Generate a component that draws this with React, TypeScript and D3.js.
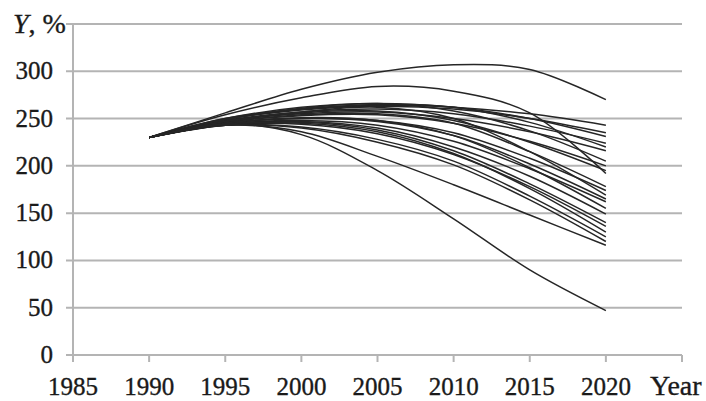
import React from "react";
import * as d3 from "d3";

// Years at which each scenario is sampled
const years = [1990, 1995, 2000, 2005, 2010, 2015, 2020];

// Y, % for each scenario, sampled at `years`
const scenarios: number[][] = [
  [230, 256, 281, 299, 307, 302, 270],
  [230, 254, 272, 284, 279, 256, 192],
  [230, 250, 260, 264, 262, 255, 243],
  [230, 249, 259, 263, 260, 250, 235],
  [230, 250, 262, 266, 262, 250, 231],
  [230, 248, 257, 260, 255, 242, 224],
  [230, 249, 260, 265, 262, 246, 220],
  [230, 247, 255, 257, 250, 236, 216],
  [230, 249, 261, 266, 258, 237, 205],
  [230, 246, 253, 254, 245, 226, 200],
  [230, 247, 256, 258, 248, 225, 195],
  [230, 246, 254, 255, 245, 215, 178],
  [230, 245, 250, 248, 235, 208, 174],
  [230, 247, 257, 262, 250, 215, 169],
  [230, 245, 250, 247, 232, 202, 165],
  [230, 244, 248, 243, 226, 197, 162],
  [230, 245, 251, 248, 232, 198, 155],
  [230, 244, 247, 240, 220, 189, 149],
  [230, 244, 246, 238, 216, 181, 140],
  [230, 243, 244, 234, 212, 178, 136],
  [230, 244, 245, 236, 213, 176, 130],
  [230, 243, 241, 228, 205, 168, 125],
  [230, 243, 240, 225, 201, 164, 120],
  [230, 243, 236, 210, 180, 148, 116],
  [230, 244, 233, 195, 144, 90, 47],
];

const yTicks = [0, 50, 100, 150, 200, 250, 300];
const xTicks = [1985, 1990, 1995, 2000, 2005, 2010, 2015, 2020, 2025];
const xTickLabels = ["1985", "1990", "1995", "2000", "2005", "2010", "2015", "2020"];
const yMax = 350;

const W = 706;
const H = 401;
const FONT = '"Liberation Serif", "Times New Roman", "DejaVu Serif", serif';

export default function App() {
  const x = d3.scaleLinear().domain([1985, 2025]).range([73, 682]);
  const y = d3.scaleLinear().domain([0, yMax]).range([355, 24]);

  const line = d3
    .line<number>()
    .x((_, i) => x(years[i]))
    .y((v) => y(v))
    .curve(d3.curveCatmullRom.alpha(0.5));

  const grid = "#b4b4b4";
  const gridLines = [...yTicks, yMax];
  const ink = "#1a1a1a";
  const textProps = {
    style: { fontFamily: FONT } as React.CSSProperties,
    fill: ink,
    stroke: ink,
    strokeWidth: 0.35,
  };

  return (
    <svg
      width={W}
      height={H}
      viewBox={`0 0 ${W} ${H}`}
      style={{ position: "absolute", left: 0, top: 0, background: "#fff" }}
    >
      {/* horizontal grid with left tick stubs */}
      {gridLines.map((t) => (
        <line
          key={"g" + t}
          x1={66}
          x2={x(2025)}
          y1={y(t)}
          y2={y(t)}
          stroke={grid}
          strokeWidth={2}
        />
      ))}
      {/* y axis */}
      <line x1={x(1985)} x2={x(1985)} y1={y(yMax)} y2={y(0)} stroke={grid} strokeWidth={2} />
      {/* x tick marks */}
      {xTicks.map((t) => (
        <line
          key={"xt" + t}
          x1={x(t)}
          x2={x(t)}
          y1={y(0)}
          y2={y(0) + 7}
          stroke={grid}
          strokeWidth={2}
        />
      ))}

      {/* y tick labels */}
      {yTicks.map((t) => (
        <text key={"yl" + t} x={53} y={y(t) + 8} textAnchor="end" fontSize={25} {...textProps}>
          {t}
        </text>
      ))}
      <text x={13} y={33} fontSize={28} {...textProps}>
        <tspan fontStyle="italic">Y</tspan>, %
      </text>

      {/* x tick labels */}
      {xTickLabels.map((t) => (
        <text key={"xl" + t} x={x(+t)} y={395} textAnchor="middle" fontSize={25} {...textProps}>
          {t}
        </text>
      ))}
      <text x={650} y={395} fontSize={28} {...textProps}>
        Year
      </text>

      {/* scenario curves */}
      {scenarios.map((s, i) => (
        <path
          key={"s" + i}
          d={line(s) ?? ""}
          fill="none"
          stroke="#262626"
          strokeWidth={1.5}
        />
      ))}
    </svg>
  );
}
